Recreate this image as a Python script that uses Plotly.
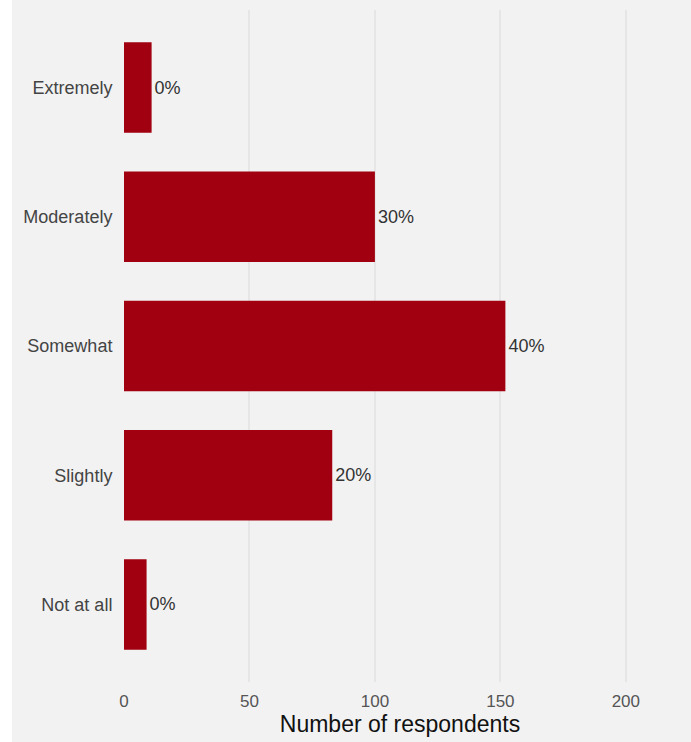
import plotly.graph_objects as go

# Response categories (bottom to top) and respondent counts
categories = ["Not at all", "Slightly", "Somewhat", "Moderately", "Extremely"]
counts = [9, 83, 152, 100, 11]
pct_labels = ["0%", "20%", "40%", "30%", "0%"]

BAR = "#a0000f"
BG = "#f2f2f2"
FONT = "Liberation Sans, Arial, sans-serif"

fig = go.Figure(
    go.Bar(
        y=categories,
        x=counts,
        orientation="h",
        width=0.7,
        marker=dict(color=BAR, line=dict(width=0)),
        text=pct_labels,
        textposition="outside",
        textfont=dict(family=FONT, size=18, color="#333333"),
        cliponaxis=False,
        hoverinfo="x+y",
    )
)

fig.update_layout(
    width=691,
    height=742,
    margin=dict(l=124, r=15, t=10, b=60),
    paper_bgcolor=BG,
    plot_bgcolor=BG,
    showlegend=False,
    font=dict(family=FONT),
    xaxis=dict(
        range=[0, 220],
        tickvals=[0, 50, 100, 150, 200],
        showgrid=True,
        gridcolor="#e6e6e6",
        gridwidth=2,
        zeroline=False,
        showline=False,
        ticks="outside",
        ticklen=4,
        tickcolor="rgba(0,0,0,0)",
        tickfont=dict(size=17, color="#555555"),
        title=dict(text="Number of respondents", font=dict(size=23, color="#111111"), standoff=1),
    ),
    yaxis=dict(
        categoryorder="array",
        categoryarray=categories,
        range=[-0.6, 4.6],
        showgrid=False,
        zeroline=False,
        showline=False,
        ticks="outside",
        ticklen=7,
        tickcolor="rgba(0,0,0,0)",
        tickfont=dict(size=18, color="#444444"),
    ),
    shapes=[
        dict(
            type="rect", xref="paper", yref="paper",
            x0=-124 / 552, x1=-112 / 552, y0=-60 / 672, y1=1 + 10 / 672,
            fillcolor="white", line=dict(width=0), layer="below",
        )
    ],
)

fig.write_html("out.html")
